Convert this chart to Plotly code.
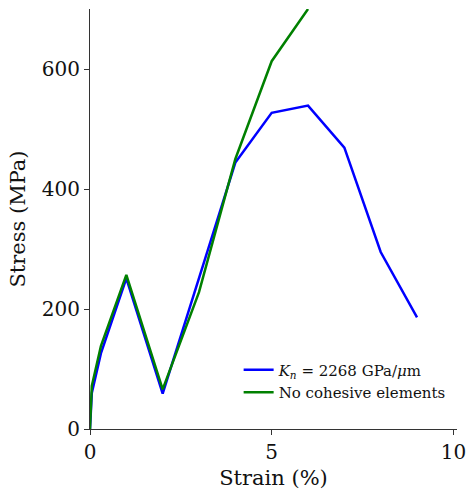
import plotly.graph_objects as go

strain_kn = [0, 0.05, 0.3, 1, 2, 3, 4, 5, 6, 7, 8, 9]
stress_kn = [0, 60, 126, 251, 59, 252, 444, 527, 539, 469, 295, 186]

strain_nc = [0, 0.05, 0.3, 1, 2, 3, 4, 5, 6]
stress_nc = [0, 72, 138, 257, 66, 228, 450, 613, 700]

name_kn = "<i>K</i><sub><i>n</i></sub> = 2268 GPa/<i>μ</i>m"
name_nc = "No cohesive elements"

x_ticks = [0, 5, 10]
y_ticks = [0, 200, 400, 600]

font = "DejaVu Serif"

fig = go.Figure()
fig.add_trace(go.Scatter(x=strain_kn, y=stress_kn, mode="lines", name=name_kn,
                         line=dict(color="#0000ff", width=2.5)))
fig.add_trace(go.Scatter(x=strain_nc, y=stress_nc, mode="lines", name=name_nc,
                         line=dict(color="#008000", width=2.5)))

axis_common = dict(showline=True, linecolor="#333333", linewidth=1.2, ticks="outside",
                   ticklen=5, tickcolor="#333333", tickwidth=1.2, showgrid=False,
                   zeroline=False, tickfont=dict(family=font, size=20, color="#111111"),
                   mirror=False, automargin=False, ticklabeloverflow="allow")

fig.update_layout(
    width=466, height=490,
    margin=dict(l=89.5, r=9.3, t=9, b=61),
    plot_bgcolor="white", paper_bgcolor="white",
    font=dict(family=font, color="#111111"),
    xaxis=dict(range=[0, 10.1], tickvals=x_ticks,
               title=dict(text="Strain (%)", font=dict(family=font, size=21), standoff=7),
               **axis_common),
    yaxis=dict(range=[0, 700], tickvals=y_ticks,
               title=dict(text="Stress (MPa)", font=dict(family=font, size=21), standoff=10),
               **axis_common),
    legend=dict(x=0.405, y=0.18, xanchor="left", yanchor="top",
                font=dict(family=font, size=15, color="#111111"),
                bgcolor="rgba(0,0,0,0)"),
    showlegend=True,
)

fig.write_html("out.html")
